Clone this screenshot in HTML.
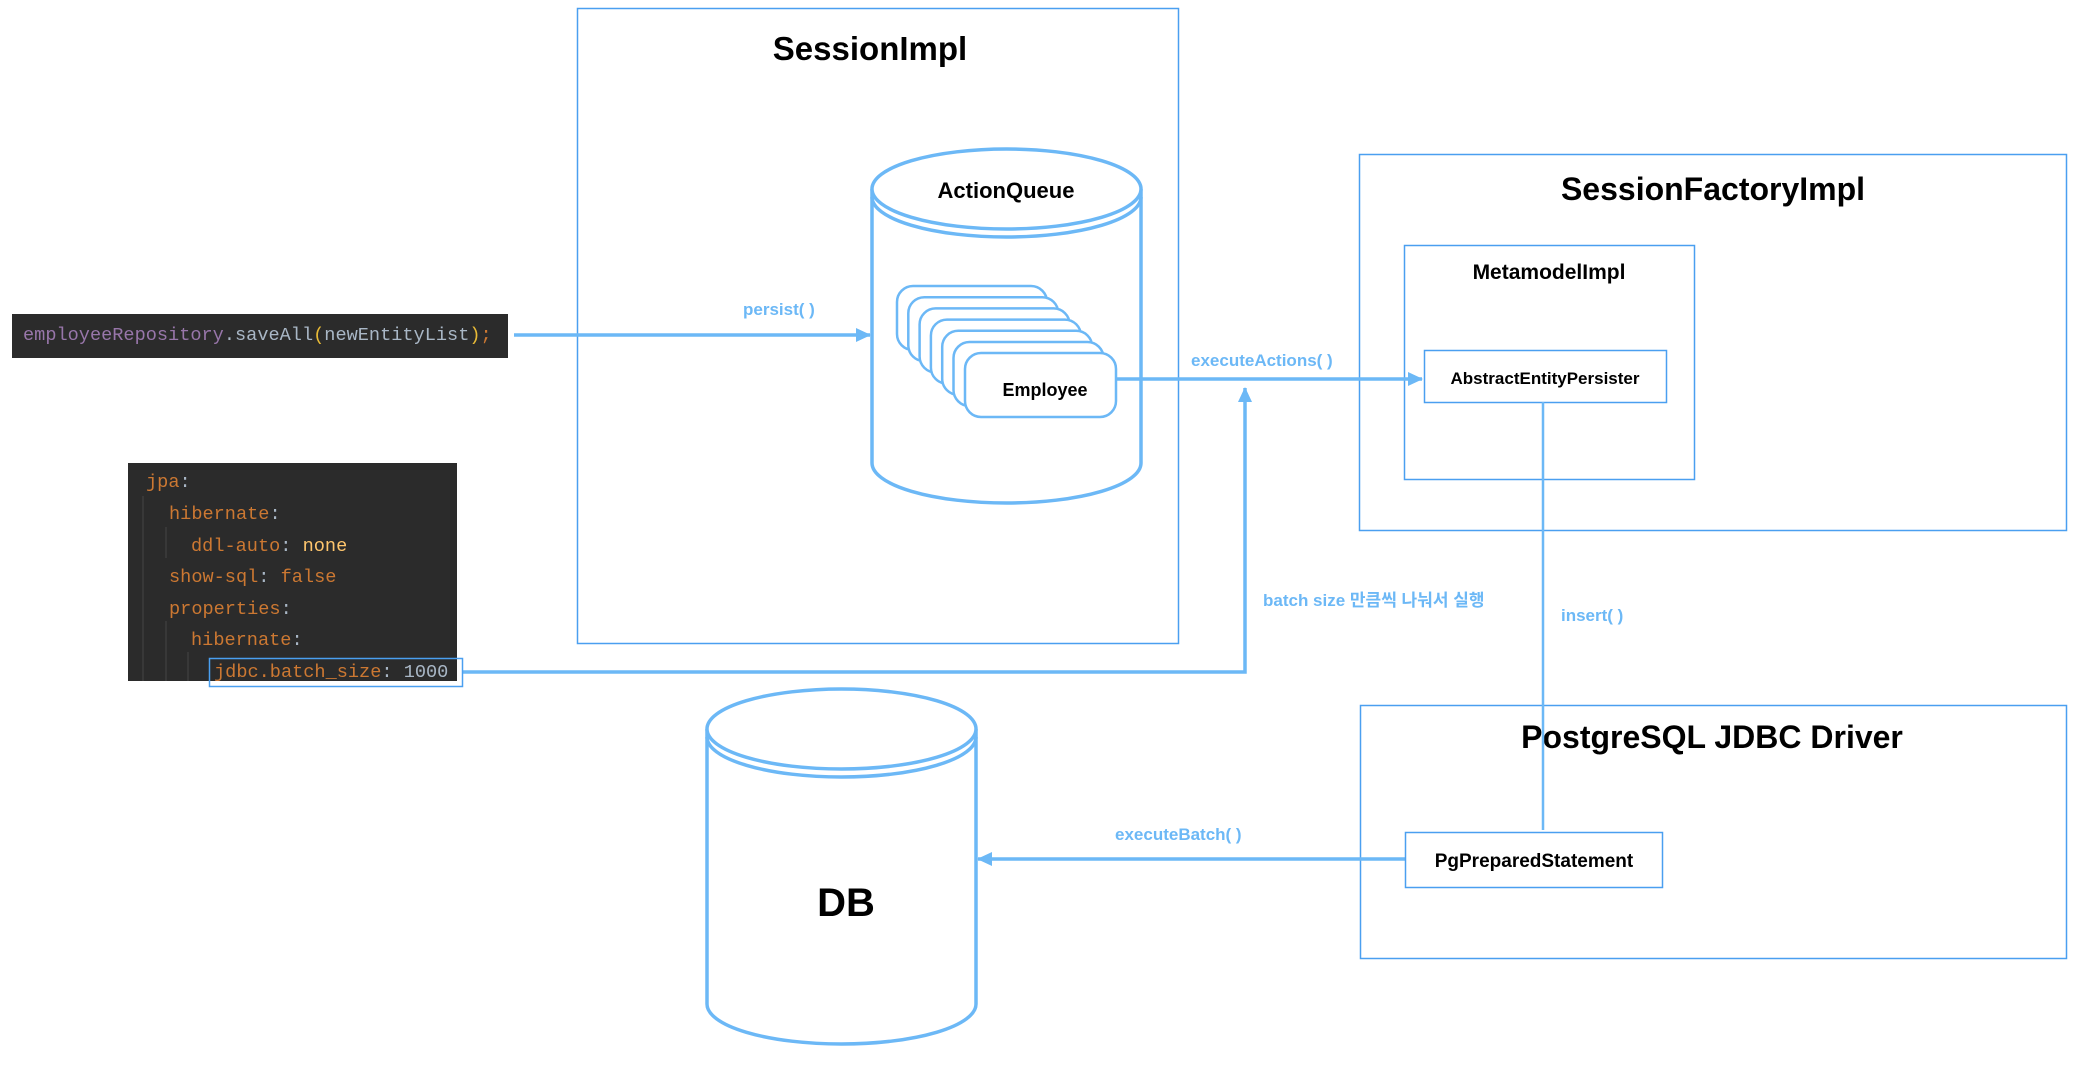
<!DOCTYPE html>
<html><head><meta charset="utf-8"><style>
html,body{margin:0;padding:0;background:#fff;width:2084px;height:1076px;overflow:hidden}
svg{display:block}
</style></head><body>
<svg width="2084" height="1076" viewBox="0 0 2084 1076" xmlns="http://www.w3.org/2000/svg">
<defs>
<marker id="ah" markerWidth="16" markerHeight="14" refX="14" refY="7" orient="auto" markerUnits="userSpaceOnUse" overflow="visible">
<path d="M0,0 L15,7 L0,14 Z" fill="#6cb8f6"/>
</marker>
</defs>
<g font-family="Liberation Sans, Noto Sans CJK KR, sans-serif" font-weight="bold">
<rect x="577.5" y="8.5" width="601" height="635" fill="none" stroke="#4a9ff0" stroke-width="1.5"/>
<text x="870" y="60" font-size="33" text-anchor="middle">SessionImpl</text>

<rect x="1359.5" y="154.5" width="707" height="376" fill="none" stroke="#4a9ff0" stroke-width="1.5"/>
<text x="1713" y="200" font-size="32" text-anchor="middle">SessionFactoryImpl</text>
<rect x="1404.5" y="245.5" width="290" height="234" fill="none" stroke="#4a9ff0" stroke-width="1.5"/>
<text x="1549" y="279" font-size="21" text-anchor="middle">MetamodelImpl</text>
<rect x="1424.5" y="350.5" width="242" height="52" fill="#fff" stroke="#4a9ff0" stroke-width="1.5"/>
<text x="1545" y="384" font-size="17" text-anchor="middle">AbstractEntityPersister</text>

<rect x="1360.5" y="705.5" width="706" height="253" fill="none" stroke="#4a9ff0" stroke-width="1.5"/>
<text x="1712" y="748" font-size="32" text-anchor="middle">PostgreSQL JDBC Driver</text>

<g fill="none" stroke="#6cb8f6" stroke-width="3.5">
<path d="M872,189 L872,463 A134.5,40 0 0 0 1141,463 L1141,189"/>
<path d="M872,197 A134.5,40 0 0 0 1141,197"/>
<ellipse cx="1006.5" cy="189" rx="134.5" ry="40" fill="#fff"/>
</g>
<text x="1006" y="198" font-size="22" text-anchor="middle">ActionQueue</text>

<g fill="#fff" stroke="#6cb8f6" stroke-width="2.5">
<rect x="897" y="286" width="150" height="64" rx="16"/>
<rect x="908.3" y="297.2" width="150" height="64" rx="16"/>
<rect x="919.6" y="308.4" width="150" height="64" rx="16"/>
<rect x="930.9" y="319.6" width="150" height="64" rx="16"/>
<rect x="942.2" y="330.8" width="150" height="64" rx="16"/>
<rect x="953.5" y="342" width="150" height="64" rx="16"/>
<rect x="965" y="353" width="151" height="64" rx="16"/>
</g>
<text x="1045" y="396" font-size="18" text-anchor="middle">Employee</text>

<g fill="none" stroke="#6cb8f6" stroke-width="3.5">
<path d="M707,729 L707,1004 A134.5,40 0 0 0 976,1004 L976,729"/>
<path d="M707,737 A134.5,40 0 0 0 976,737"/>
<ellipse cx="841.5" cy="729" rx="134.5" ry="40" fill="#fff"/>
</g>
<text x="846" y="916" font-size="40" text-anchor="middle">DB</text>

<g stroke="#6cb8f6" stroke-width="3.5" fill="none">
<line x1="514" y1="335" x2="870" y2="335" marker-end="url(#ah)"/>
<line x1="1116" y1="379" x2="1422" y2="379" marker-end="url(#ah)"/>
<polyline points="463,672 1245,672 1245,388" marker-end="url(#ah)"/>
<line x1="1405" y1="859" x2="978" y2="859" marker-end="url(#ah)"/>
<line x1="1543" y1="402" x2="1543" y2="830" stroke-width="2.5"/>
</g>
<rect x="1405.5" y="832.5" width="257" height="55" fill="#fff" stroke="#4a9ff0" stroke-width="1.5"/>
<text x="1534" y="867" font-size="19" text-anchor="middle">PgPreparedStatement</text>

<g fill="#6cb8f6" font-size="17">
<text x="743" y="315">persist( )</text>
<text x="1191" y="366">executeActions( )</text>
<text x="1263" y="606">batch size 만큼씩 나눠서 실행</text>
<text x="1561" y="621">insert( )</text>
<text x="1115" y="840">executeBatch( )</text>
</g>
</g>

<rect x="12" y="314" width="496" height="44" fill="#2b2b2b"/>
<text x="23" y="340" font-family="Liberation Mono, monospace" font-size="18.6" fill="#a9b7c6" xml:space="preserve"><tspan fill="#9876aa">employeeRepository</tspan>.saveAll<tspan fill="#e8ba36">(</tspan>newEntityList<tspan fill="#e8ba36">)</tspan><tspan fill="#cc7832">;</tspan></text>

<rect x="128" y="463" width="329" height="218" fill="#2b2b2b"/>
<g stroke="#3c3c3c" stroke-width="1.5">
<line x1="143" y1="496" x2="143" y2="681"/>
<line x1="166" y1="527" x2="166" y2="558"/>
<line x1="166" y1="621" x2="166" y2="681"/>
<line x1="188" y1="652" x2="188" y2="681"/>
</g>
<g font-family="Liberation Mono, monospace" font-size="18.6" fill="#cc7832" xml:space="preserve">
<text x="146" y="487">jpa<tspan fill="#a9b7c6">:</tspan></text>
<text x="169" y="519">hibernate<tspan fill="#a9b7c6">:</tspan></text>
<text x="191" y="551">ddl-auto<tspan fill="#a9b7c6">: </tspan><tspan fill="#ffc66d">none</tspan></text>
<text x="169" y="582">show-sql<tspan fill="#a9b7c6">: </tspan>false</text>
<text x="169" y="614">properties<tspan fill="#a9b7c6">:</tspan></text>
<text x="191" y="645">hibernate<tspan fill="#a9b7c6">:</tspan></text>
<text x="214" y="677">jdbc.batch_size<tspan fill="#a9b7c6">: 1000</tspan></text>
</g>
<rect x="209.5" y="658.5" width="253" height="28" fill="none" stroke="#4a9ff0" stroke-width="1.5"/>
</svg>
</body></html>
